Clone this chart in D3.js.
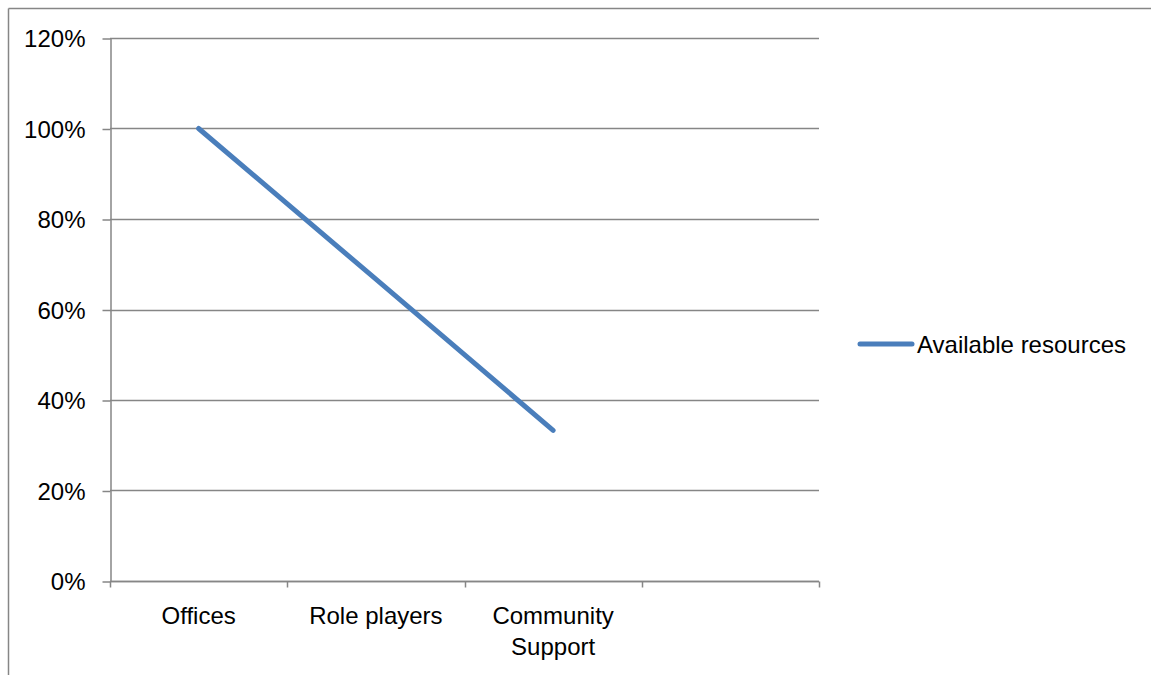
<!DOCTYPE html>
<html>
<head>
<meta charset="utf-8">
<script src="https://cdn.jsdelivr.net/npm/d3@7"></script>
<style>
    body { margin: 0; background: #fff; }
    svg { display: block; font-family: "Liberation Sans", Arial, sans-serif; }
    .axis path, .axis line { stroke: #868686; }
    .axis text { fill: #000; font-size: 24px; }
</style>
</head>
<body>
<div id="chart"></div>
<script>
// chart data
const categories = ["Offices", "Role players", "Community Support", ""];
const seriesName = "Available resources";
const values = [1.0, 0.667, 0.333];
const yTicks = [0, 0.2, 0.4, 0.6, 0.8, 1.0, 1.2];

const W = 1151, H = 675;
const margin = {top: 38, left: 110, right: 332, bottom: 94};

const svg = d3.select("#chart").append("svg")
    .attr("width", W)
    .attr("height", H);

// outer frame (only top and left edges visible)
svg.append("line")
    .attr("x1", 8.5).attr("y1", 8.5).attr("x2", W).attr("y2", 8.5)
    .attr("stroke", "#868686").attr("stroke-width", 1.5);
svg.append("line")
    .attr("x1", 8.5).attr("y1", 8.5).attr("x2", 8.5).attr("y2", H)
    .attr("stroke", "#868686").attr("stroke-width", 1.5);

const x = d3.scaleBand()
    .domain(categories.map((d, i) => i))
    .range([margin.left, W - margin.right]);

const y = d3.scaleLinear()
    .domain([0, 1.2])
    .range([H - margin.bottom, margin.top]);

// gridlines
svg.append("g")
    .selectAll("line")
    .data(yTicks)
    .join("line")
    .attr("x1", margin.left)
    .attr("x2", W - margin.right)
    .attr("y1", d => Math.round(y(d)) + 0.5)
    .attr("y2", d => Math.round(y(d)) + 0.5)
    .attr("stroke", "#868686")
    .attr("stroke-width", 1.5);

// y axis
const yAxis = svg.append("g")
    .attr("class", "axis")
    .attr("transform", `translate(${margin.left + 0.5},0)`)
    .call(d3.axisLeft(y).tickValues(yTicks).tickFormat(d3.format(".0%")).tickSize(8).tickPadding(17).tickSizeOuter(0));
yAxis.selectAll(".tick line").attr("transform", "translate(0,0.5)").attr("stroke-width", 1.5);
yAxis.select(".domain").attr("stroke-width", 1.5);
yAxis.selectAll("text").attr("dy", "0.36em");

// x axis
const xAxis = svg.append("g")
    .attr("class", "axis")
    .attr("transform", `translate(0,${Math.round(y(0)) + 0.5})`);
xAxis.append("line")
    .attr("x1", margin.left).attr("x2", W - margin.right)
    .attr("stroke", "#868686").attr("stroke-width", 1.5);
xAxis.selectAll(".xtick")
    .data(d3.range(categories.length + 1))
    .join("line")
    .attr("class", "xtick")
    .attr("x1", i => Math.round(margin.left + i * x.bandwidth()) + 0.5)
    .attr("x2", i => Math.round(margin.left + i * x.bandwidth()) + 0.5)
    .attr("y1", 0).attr("y2", 6)
    .attr("stroke", "#868686").attr("stroke-width", 1.5);

// category labels (wrap long ones)
const labelLines = {"Community Support": ["Community", "Support"]};
categories.forEach((c, i) => {
    const lines = labelLines[c] || [c];
    const t = xAxis.append("text")
        .attr("text-anchor", "middle")
        .attr("font-size", 24)
        .attr("fill", "#000")
        .attr("x", x(i) + x.bandwidth() / 2)
        .attr("y", 42);
    lines.forEach((l, j) => {
        t.append("tspan")
            .attr("x", x(i) + x.bandwidth() / 2)
            .attr("dy", j === 0 ? 0 : 31)
            .text(l);
    });
});

// series line
svg.append("path")
    .datum(values)
    .attr("fill", "none")
    .attr("stroke", "#4a7ebb")
    .attr("stroke-width", 5)
    .attr("stroke-linecap", "round")
    .attr("stroke-linejoin", "round")
    .attr("d", d3.line()
        .x((d, i) => x(i) + x.bandwidth() / 2)
        .y(d => y(d)));

// legend
const legend = svg.append("g").attr("transform", "translate(858,344)");
legend.append("line")
    .attr("x1", 2).attr("x2", 54)
    .attr("stroke", "#4a7ebb")
    .attr("stroke-width", 5)
    .attr("stroke-linecap", "round");
legend.append("text")
    .attr("x", 59)
    .attr("y", 9)
    .attr("font-size", 24)
    .attr("fill", "#000")
    .text(seriesName);
</script>
</body>
</html>
